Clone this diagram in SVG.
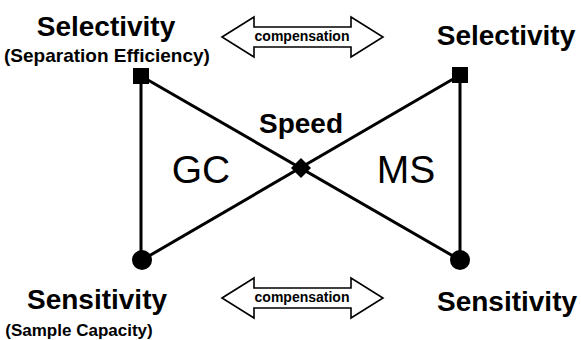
<svg xmlns="http://www.w3.org/2000/svg" width="581" height="340" viewBox="0 0 581 340">
<style>
.b{font-family:"Liberation Sans",Arial,sans-serif;font-weight:bold;fill:#000;text-anchor:middle}
.r{font-family:"Liberation Sans",Arial,sans-serif;fill:#000;text-anchor:middle}
.ln{stroke:#000;stroke-width:3;fill:none}
.arr{fill:#fff;stroke:#000;stroke-width:1.6;stroke-linejoin:miter}
</style>
<defs>
<path id="dbl" d="M0,0 L32,-20 L32,-10 L129,-10 L129,-20 L161,0 L129,20 L129,10 L32,10 L32,20 Z"/>
</defs>
<rect width="581" height="340" fill="#fff"/>
<g id="connectors">
<path class="ln" d="M141,76 L460,260 M460,75 L142,260 M141,76 L141,260 M460,75 L460,260"/>
</g>
<g id="sel-gc">
<rect x="133" y="68" width="16" height="16" fill="#000"/>
<text class="b" x="106" y="36" font-size="28">Selectivity</text>
<text class="b" x="107" y="62" font-size="19">(Separation Efficiency)</text>
</g>
<g id="sel-ms">
<rect x="452" y="67" width="16" height="16" fill="#000"/>
<text class="b" x="506" y="45" font-size="28">Selectivity</text>
</g>
<g id="sens-gc">
<circle cx="142" cy="260" r="10" fill="#000"/>
<text class="b" x="97" y="309" font-size="28">Sensitivity</text>
<text class="b" x="79" y="336" font-size="17">(Sample Capacity)</text>
</g>
<g id="sens-ms">
<circle cx="460" cy="260" r="10" fill="#000"/>
<text class="b" x="507" y="311" font-size="28">Sensitivity</text>
</g>
<g id="speed">
<polygon points="301,158 311,168 301,178 291,168" fill="#000"/>
<text class="b" x="301" y="133" font-size="28">Speed</text>
</g>
<g id="gc"><text class="r" x="201" y="183" font-size="39">GC</text></g>
<g id="ms"><text class="r" x="406" y="183" font-size="39">MS</text></g>
<g id="comp-top">
<use href="#dbl" class="arr" transform="translate(222,37)"/>
<text class="b" x="302" y="41" font-size="14">compensation</text>
</g>
<g id="comp-bottom">
<use href="#dbl" class="arr" transform="translate(222,298)"/>
<text class="b" x="302" y="302" font-size="14">compensation</text>
</g>
</svg>
